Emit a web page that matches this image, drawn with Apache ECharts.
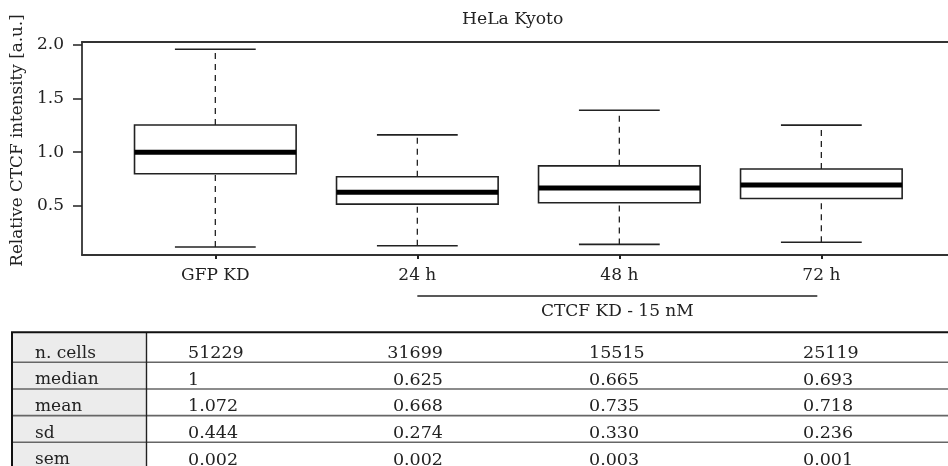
<!DOCTYPE html>
<html><head><meta charset="utf-8">
<script src="https://cdn.jsdelivr.net/npm/echarts@6/dist/echarts.min.js"></script>
<style>html,body{margin:0;padding:0;background:#fff}#c{width:948px;height:466px}</style>
</head><body><div id="c"></div>
<script>
const categories = ['GFP KD', '24 h', '48 h', '72 h'];
const whiskerLow = [0.115, 0.127, 0.139, 0.159];
const q1 = [0.798, 0.515, 0.527, 0.567];
const median = [1.0, 0.625, 0.665, 0.693];
const q3 = [1.254, 0.770, 0.872, 0.842];
const whiskerHigh = [1.960, 1.161, 1.391, 1.252];
const yTicks = [0.5, 1.0, 1.5, 2.0];
const bracketLabel = 'CTCF KD - 15 nM';
const bracketSpan = [2, 3.98];

const rowLabels = ['n. cells', 'median', 'mean', 'sd', 'sem'];
const nCells = ['51229', '31699', '15515', '25119'];
const medians = ['1', '0.625', '0.665', '0.693'];
const means = ['1.072', '0.668', '0.735', '0.718'];
const sds = ['0.444', '0.274', '0.330', '0.236'];
const sems = ['0.002', '0.002', '0.003', '0.001'];
const tableRows = [nCells, medians, means, sds, sems];

const FONT = 'DejaVu Serif';
const INK = '#222';
const Y_MIN = 0.04, Y_MAX = 2.028;

const boxData = categories.map((c, i) => [i + 1, whiskerLow[i], q1[i], median[i], q3[i], whiskerHigh[i]]);

function renderBox(params, api) {
  const x = api.value(0);
  const lo = api.value(1), a = api.value(2), m = api.value(3), b = api.value(4), hi = api.value(5);
  const half = 0.4, cap = 0.2;
  const p = (xx, yy) => api.coord([xx, yy]);
  const dash = { stroke: INK, lineWidth: 1.3, lineDash: [6, 5] };
  const solid = { stroke: INK, lineWidth: 1.6 };
  const pLo = p(x, lo), pA = p(x, a), pB = p(x, b), pHi = p(x, hi);
  const l = p(x - half, b), r = p(x + half, a);
  const mL = p(x - half, m), mR = p(x + half, m);
  return {
    type: 'group', children: [
      { type: 'line', shape: { x1: pLo[0], y1: pLo[1], x2: pA[0], y2: pA[1] }, style: dash },
      { type: 'line', shape: { x1: pB[0], y1: pB[1], x2: pHi[0], y2: pHi[1] }, style: dash },
      { type: 'line', shape: { x1: p(x - cap, lo)[0], y1: pLo[1], x2: p(x + cap, lo)[0], y2: pLo[1] }, style: solid },
      { type: 'line', shape: { x1: p(x - cap, hi)[0], y1: pHi[1], x2: p(x + cap, hi)[0], y2: pHi[1] }, style: solid },
      { type: 'rect', shape: { x: l[0], y: l[1], width: r[0] - l[0], height: r[1] - l[1] }, style: { fill: '#fff', stroke: INK, lineWidth: 1.6 } },
      { type: 'line', shape: { x1: mL[0], y1: mL[1], x2: mR[0], y2: mR[1] }, style: { stroke: '#000', lineWidth: 5 } }
    ]
  };
}

function renderBracket(params, api) {
  const a = api.coord([api.value(0), Y_MIN]);
  const b = api.coord([api.value(1), Y_MIN]);
  return {
    type: 'group', children: [
      { type: 'line', shape: { x1: a[0], y1: a[1] + 41, x2: b[0], y2: a[1] + 41 }, style: { stroke: INK, lineWidth: 1.6 } },
      { type: 'text', style: { x: (a[0] + b[0]) / 2, y: a[1] + 57, text: bracketLabel, fill: INK, font: '17px "' + FONT + '"', align: 'center', verticalAlign: 'middle' } }
    ]
  };
}

// table as graphic elements built from the arrays
const tLeft = 12, tRight = 970, tTop = 332.3, firstDiv = 362.3, rowH = 26.67, labColRight = 146.5;
const colAnchors = [{ x: 188, align: 'left' }, { x: 443, align: 'right' }, { x: 589, align: 'left' }, { x: 803, align: 'left' }];
const tableEls = [];
const tBottom = firstDiv + rowH * (rowLabels.length - 1);
tableEls.push({ type: 'rect', shape: { x: tLeft, y: tTop, width: labColRight - tLeft, height: tBottom - tTop }, style: { fill: '#ececec' } });
for (let i = 1; i < rowLabels.length; i++) {
  const y = firstDiv + rowH * (i - 1);
  tableEls.push({ type: 'line', shape: { x1: tLeft, y1: y, x2: tRight, y2: y }, style: { stroke: '#666', lineWidth: 1.6 } });
}
tableEls.push({ type: 'line', shape: { x1: labColRight, y1: tTop, x2: labColRight, y2: tBottom }, style: { stroke: INK, lineWidth: 1.4 } });
tableEls.push({ type: 'rect', shape: { x: tLeft, y: tTop, width: tRight - tLeft, height: tBottom - tTop }, style: { fill: 'none', stroke: '#111', lineWidth: 2 } });
rowLabels.forEach((lab, i) => {
  const yc = (i === 0 ? firstDiv : firstDiv + rowH * i) - 9;
  tableEls.push({ type: 'text', style: { x: 35, y: yc, text: lab, fill: INK, font: '17px "' + FONT + '"', verticalAlign: 'middle', align: 'left' } });
  tableRows[i].forEach((v, j) => {
    tableEls.push({ type: 'text', style: { x: colAnchors[j].x, y: yc, text: v, fill: INK, font: '17.5px "' + FONT + '"', verticalAlign: 'middle', align: colAnchors[j].align } });
  });
});

const chart = echarts.init(document.getElementById('c'), null, { renderer: 'canvas' });
chart.setOption({
  animation: false,
  backgroundColor: '#fff',
  title: { text: 'HeLa Kyoto', left: 457, top: 6, textStyle: { fontFamily: FONT, fontSize: 17.2, fontWeight: 'normal', color: INK } },
  grid: { left: 82, top: 42, right: 0, bottom: 211, show: false, containLabel: false },
  xAxis: [{
    type: 'value', min: 0.34, max: 4.627, splitLine: { show: false },
    axisLine: { show: true, onZero: false, lineStyle: { color: '#333', width: 1.8 } },
    axisTick: { show: true, customValues: [1, 2, 3, 4], length: 4, lineStyle: { color: INK, width: 2 } },
    axisLabel: { customValues: [1, 2, 3, 4], formatter: v => categories[Math.round(v) - 1] || '', margin: 12, fontFamily: FONT, fontSize: 17, color: INK }
  }, {
    type: 'value', position: 'top', min: 0.34, max: 4.627, splitLine: { show: false },
    axisLine: { show: true, onZero: false, lineStyle: { color: '#333', width: 1.8 } },
    axisTick: { show: false }, axisLabel: { show: false }
  }],
  yAxis: {
    type: 'value', min: Y_MIN, max: Y_MAX, splitLine: { show: false },
    name: 'Relative CTCF intensity [a.u.]', nameLocation: 'middle', nameGap: 45,
    nameTextStyle: { fontFamily: FONT, fontSize: 16.8, color: INK, padding: [0, 0, 0, 16] },
    axisLine: { show: true, lineStyle: { color: '#333', width: 1.8 } },
    axisTick: { show: true, customValues: yTicks, length: 9, lineStyle: { color: INK, width: 1.5 } },
    axisLabel: { customValues: yTicks, formatter: v => v.toFixed(1), margin: 18, fontFamily: FONT, fontSize: 17, color: INK }
  },
  series: [
    { type: 'custom', renderItem: renderBox, data: boxData, encode: { x: 0, y: [1, 2, 3, 4, 5] }, clip: false },
    { type: 'custom', renderItem: renderBracket, data: [bracketSpan], encode: { x: [0, 1] }, clip: false, silent: true }
  ],
  graphic: [{ type: 'group', children: tableEls }]
});
</script></body></html>
